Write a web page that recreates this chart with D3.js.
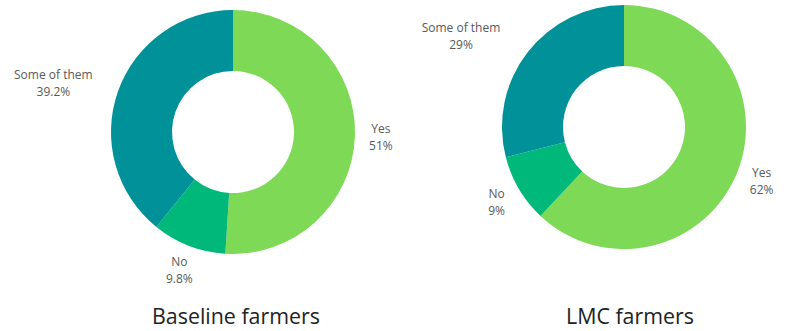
<!DOCTYPE html>
<html><head><meta charset="utf-8">
<script src="https://cdn.jsdelivr.net/npm/d3@7"></script>
<style>
html,body{margin:0;padding:0;background:#fff;}
svg{display:block;font-family:"Open Sans",sans-serif;}
</style></head>
<body><svg id="chart" width="788" height="331"></svg>
<script>
const categories = ["Yes", "No", "Some of them"];
const colors = ["#7ed957", "#00b87a", "#009199"];
const panels = ["Baseline farmers", "LMC farmers"];
const baselineValues = [51, 9.8, 39.2];
const lmcValues = [62, 9, 29];
const valueLabels = [["51%", "9.8%", "39.2%"], ["62%", "9%", "29%"]];

const svg = d3.select("#chart");
const layout = [
  {cx: 233, cy: 132, values: baselineValues, title: panels[0], tx: 236},
  {cx: 624, cy: 127, values: lmcValues, title: panels[1], tx: 630}
];
const R = 122, r0 = 61, labelR = 148, clearR = 144;
const pie = d3.pie().sort(null).value(d => d);
const arc = d3.arc().innerRadius(r0).outerRadius(R);

layout.forEach((p, pi) => {
  const g = svg.append("g").attr("transform", `translate(${p.cx},${p.cy})`);
  const arcs = pie(p.values);
  g.selectAll("path").data(arcs).join("path")
    .attr("d", arc).attr("fill", (d, i) => colors[i]);

  arcs.forEach((a, i) => {
    const mid = (a.startAngle + a.endAngle) / 2;
    let x = labelR * Math.sin(mid), y = -labelR * Math.cos(mid);
    const t = g.append("text").attr("text-anchor", "middle")
      .attr("fill", "#595959").style("font-size", "12px");
    t.append("tspan").attr("x", 0).attr("dy", 0).text(categories[i]);
    t.append("tspan").attr("x", 0).attr("dy", 17).text(valueLabels[pi][i]);
    const bb = t.node().getBBox();
    const hw = bb.width / 2, hh = bb.height / 2;
    const cyOff = bb.y + hh;
    const sx = x >= 0 ? 1 : -1;
    const cornerDist = (cx) => Math.hypot(Math.max(0, Math.abs(cx) - hw), Math.max(0, Math.abs(y) - hh));
    if (cornerDist(x) < R - 4) {
      const cyy = Math.max(0, Math.abs(y) - hh);
      const nx = Math.sqrt(Math.max(0, clearR * clearR - cyy * cyy)) + hw;
      x = sx * nx;
    }
    t.attr("transform", `translate(${x},${y - cyOff})`);
  });

  svg.append("text").attr("x", p.tx).attr("y", 324)
    .attr("text-anchor", "middle").attr("fill", "#222")
    .style("font-size", "21.4px").text(p.title);
});
</script></body></html>
